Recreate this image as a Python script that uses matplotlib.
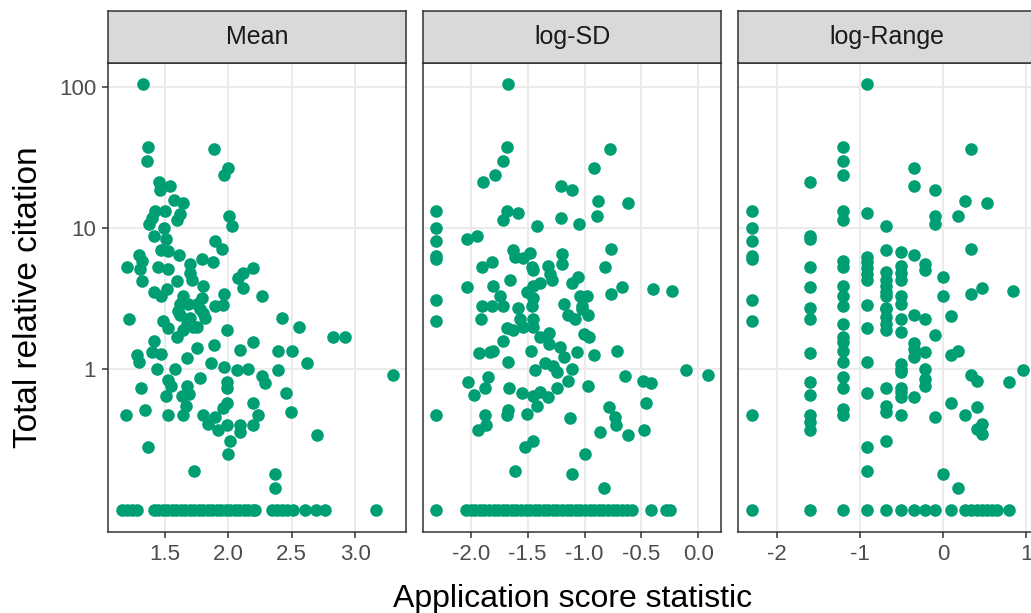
import matplotlib
matplotlib.use("Agg")
import matplotlib.pyplot as plt
import numpy as np

plt.rcParams['font.family'] = ['Liberation Sans', 'DejaVu Sans']

GREEN = "#009E73"
FLOOR = 0.1   # zero citations are drawn on this floor of the log axis

# --- Mean of application scores ---
mean_x = [1.324, 1.368, 1.356, 1.889, 1.995, 1.966, 1.453, 1.461, 1.539, 1.571,
          1.640, 1.618, 1.592, 1.421, 1.395, 1.376, 1.500, 1.494, 2.005, 2.031,
          1.413, 1.506, 1.895, 1.948, 1.468, 1.526, 1.613, 1.297, 1.316, 1.198,
          1.447, 1.526, 1.697, 1.790, 1.877, 2.197, 2.118, 2.079, 1.303, 1.316,
          2.118, 2.263, 1.416, 1.468, 1.513, 1.592, 1.697, 1.711, 1.802, 1.966,
          1.644, 1.618, 1.684, 1.790, 1.895, 1.960, 1.802, 1.618, 1.697, 1.776,
          1.671, 1.750, 1.816, 1.605, 1.750, 1.216, 1.487, 1.526, 1.592, 1.644,
          1.723, 1.987, 2.426, 2.560, 2.828, 2.921, 1.416, 1.277, 1.297, 1.395,
          1.468, 1.676, 1.750, 1.887, 1.863, 2.092, 2.192, 2.394, 2.500, 2.623,
          1.434, 1.579, 1.966, 2.066, 2.153, 2.394, 3.300, 1.526, 1.776, 1.987,
          1.992, 2.263, 2.289, 1.308, 1.545, 1.676, 1.692, 1.632, 1.508, 2.453,
          1.666, 1.644, 1.526, 1.342, 1.192, 1.987, 1.955, 2.192, 2.236, 2.494,
          1.798, 1.842, 1.895, 1.921, 1.987, 2.092, 2.092, 2.013, 1.995, 2.192,
          2.702, 1.368, 1.729, 2.368, 2.368]
mean_y = [104, 37.5, 29.6, 36.1, 26.6, 23.8, 21.0, 18.7, 19.9, 15.7,
          14.9, 12.6, 11.3, 13.1, 11.8, 10.7, 13.1, 10.0, 12.2, 10.3,
          8.7, 8.3, 8.1, 7.1, 7.0, 6.85, 6.4, 6.4, 5.8, 5.3,
          5.3, 5.1, 5.6, 6.0, 5.7, 5.2, 4.8, 4.45, 5.1, 4.2,
          3.75, 3.3, 3.5, 3.3, 3.7, 4.2, 4.8, 4.3, 3.85, 3.4,
          3.3, 2.9, 2.9, 3.2, 2.8, 2.85, 2.5, 2.4, 2.3, 2.65,
          2.1, 2.0, 2.3, 2.6, 2.9, 2.25, 2.2, 1.95, 1.7, 1.9,
          2.0, 1.9, 2.3, 2.0, 1.7, 1.7, 1.57, 1.26, 1.12, 1.32,
          1.28, 1.2, 1.41, 1.49, 1.11, 1.36, 1.55, 1.34, 1.34, 1.10,
          1.0, 1.0, 1.04, 0.98, 1.0, 0.98, 0.91, 0.84, 0.86, 0.81,
          0.73, 0.89, 0.80, 0.73, 0.76, 0.76, 0.67, 0.65, 0.65, 0.68,
          0.55, 0.47, 0.47, 0.51, 0.47, 0.58, 0.53, 0.575, 0.47, 0.50,
          0.47, 0.41, 0.46, 0.37, 0.40, 0.40, 0.36, 0.31, 0.25, 0.40,
          0.34, 0.28, 0.19, 0.18, 0.145]
mean_x_zero = [1.161, 1.200, 1.240, 1.279, 1.413, 1.445, 1.484, 1.516, 1.555, 1.587,
               1.626, 1.658, 1.697, 1.729, 1.768, 1.800, 1.839, 1.871, 1.910, 1.942,
               1.981, 2.013, 2.052, 2.084, 2.124, 2.155, 2.195, 2.210, 2.345, 2.384,
               2.423, 2.463, 2.510, 2.603, 2.694, 2.760, 3.165]

# --- log of standard deviation ---
logsd_x = [-1.670, -1.678, -1.714, -1.786, -1.889, -0.776, -0.919, -1.209, -1.112, -0.879,
           -0.893, -0.615, -2.305, -2.305, -2.305, -2.305, -2.305, -1.684, -1.719, -1.582,
           -1.420, -1.209, -1.046, -2.035, -1.947, -1.626, -1.611, -1.479, -1.538, -1.464,
           -1.455, -1.318, -1.303, -1.200, -1.200, -0.767, -0.820, -1.903, -1.815, -1.655,
           -2.035, -1.807, -1.743, -1.450, -1.391, -1.288, -1.112, -1.054, -1.508, -1.450,
           -1.040, -0.981, -0.767, -0.668, -0.401, -0.228, -2.305, -1.903, -1.815, -1.714,
           -1.587, -1.464, -1.180, -1.025, -2.305, -1.909, -1.567, -1.684, -1.626, -1.538,
           -1.450, -1.450, -1.142, -1.083, -1.025, -0.967, -1.004, -0.958, -1.391, -1.309,
           -1.309, -1.215, -1.180, -1.069, -0.917, -0.717, -1.719, -1.924, -1.830, -1.807,
           -1.670, -1.470, -1.435, -1.347, -1.274, -1.244, -1.112, -2.026, -1.971, -1.845,
           -1.874, -1.661, -1.552, -1.455, -1.391, -1.318, -1.420, -1.508, -1.670, -1.684,
           -1.874, -1.866, -1.933, -1.244, -1.148, -0.967, -0.644, -0.489, -0.418, -0.111,
           0.088, -1.127, -0.782, -0.732, -0.726, -0.460, -0.474, -0.864, -0.620, -1.455,
           -1.523, -0.996, -1.611, -1.112, -0.829, -2.305]
logsd_y = [104, 37.5, 29.6, 23.6, 21.0, 36.1, 26.6, 19.9, 18.7, 15.6,
           12.1, 14.9, 13.1, 10.0, 8.1, 6.3, 6.0, 13.1, 11.3, 12.8,
           10.4, 11.8, 10.7, 8.4, 8.7, 7.0, 6.2, 6.7, 6.1, 5.25,
           5.0, 5.4, 4.7, 6.5, 5.6, 7.1, 5.25, 5.25, 5.7, 4.3,
           3.8, 3.85, 3.3, 3.85, 4.1, 4.3, 4.1, 4.5, 3.5, 3.2,
           3.3, 3.3, 3.4, 3.8, 3.7, 3.6, 3.1, 2.8, 2.8, 2.8,
           2.7, 2.8, 2.9, 2.8, 2.2, 2.25, 2.25, 1.97, 1.9, 2.0,
           2.25, 2.0, 2.4, 2.25, 2.65, 2.4, 1.77, 1.7, 1.7, 1.8,
           1.5, 1.43, 1.22, 1.32, 1.27, 1.34, 1.57, 1.3, 1.32, 1.35,
           1.12, 1.34, 0.98, 1.1, 1.06, 0.96, 1.0, 0.81, 0.66, 0.88,
           0.73, 0.74, 0.68, 0.65, 0.69, 0.64, 0.55, 0.48, 0.51, 0.47,
           0.47, 0.40, 0.37, 0.73, 0.83, 0.76, 0.89, 0.83, 0.80, 0.98,
           0.91, 0.45, 0.54, 0.46, 0.40, 0.575, 0.37, 0.36, 0.34, 0.31,
           0.28, 0.25, 0.19, 0.18, 0.145, 0.47]
logsd_x_zero = [-2.302, -2.041, -1.997, -1.962, -1.918, -1.883, -1.839, -1.795, -1.760, -1.716,
                -1.681, -1.637, -1.602, -1.558, -1.514, -1.479, -1.435, -1.400, -1.356, -1.321,
                -1.277, -1.242, -1.198, -1.154, -1.119, -1.075, -1.040, -0.996, -0.952, -0.917,
                -0.873, -0.838, -0.794, -0.750, -0.715, -0.671, -0.627, -0.583, -0.416, -0.284,
                -0.249]

# --- score range (log taken when drawing) ---
range_v = [0.4, 0.3, 0.3, 0.3, 0.2, 0.7, 0.7, 0.9, 1.4, 1.3,
           1.7, 1.2, 0.9, 0.9, 0.1, 0.1, 0.1, 0.1, 0.1, 0.1,
           0.1, 0.1, 0.3, 0.3, 0.4, 0.5, 0.2, 0.2, 1.4, 0.5,
           0.6, 0.7, 0.8, 0.8, 1.0, 1.0, 0.4, 0.4, 0.4, 0.4,
           0.4, 0.3, 0.3, 0.2, 0.2, 0.2, 0.3, 0.3, 0.3, 0.5,
           0.5, 0.5, 0.5, 0.5, 0.5, 0.6, 0.6, 0.6, 0.6, 0.6,
           0.4, 1.4, 1.6, 2.3, 0.2, 0.2, 0.2, 0.2, 0.2, 0.2,
           0.2, 0.3, 0.3, 0.3, 0.3, 0.3, 0.3, 0.3, 0.3, 0.3,
           0.4, 0.4, 0.4, 0.4, 0.4, 0.5, 0.5, 0.5, 0.5, 0.5,
           0.5, 0.5, 0.5, 0.6, 0.6, 0.6, 0.6, 0.6, 0.6, 0.6,
           0.6, 0.6, 0.7, 0.7, 0.7, 0.7, 0.7, 0.8, 0.8, 0.8,
           0.8, 0.8, 0.9, 0.9, 1.0, 1.1, 1.1, 1.1, 1.2, 1.2,
           1.3, 1.4, 1.5, 1.5, 1.5, 1.6, 1.6, 2.2, 2.6]
range_y = [104, 37.5, 29.6, 23.6, 21.0, 26.6, 19.9, 18.7, 36.1, 15.6,
           14.9, 12.1, 12.1, 10.7, 13.1, 10.0, 8.1, 6.3, 6.0, 3.1,
           2.2, 0.47, 13.1, 11.3, 12.8, 10.4, 8.7, 8.3, 7.1, 7.0,
           6.8, 6.4, 5.6, 5.0, 4.5, 3.3, 6.2, 5.7, 5.2, 4.7,
           4.3, 5.8, 5.3, 5.25, 3.8, 2.7, 3.85, 3.3, 2.8, 4.9,
           4.3, 3.85, 3.5, 3.3, 2.7, 5.4, 4.8, 4.3, 3.3, 2.9,
           2.85, 3.4, 3.75, 3.6, 2.25, 1.30, 0.81, 0.66, 0.47, 0.42,
           0.37, 2.08, 1.69, 1.55, 1.35, 1.12, 0.88, 0.74, 0.52, 0.47,
           1.97, 1.12, 0.68, 0.28, 0.19, 2.65, 2.33, 2.08, 1.89, 0.73,
           0.55, 0.50, 0.31, 2.25, 1.83, 1.09, 1.0, 0.95, 0.74, 0.69,
           0.64, 0.47, 2.4, 1.53, 1.40, 1.22, 0.64, 2.25, 1.32, 1.0,
           0.85, 0.76, 1.74, 0.46, 0.18, 2.37, 1.26, 0.575, 1.34, 0.145,
           0.47, 0.91, 0.83, 0.54, 0.38, 0.41, 0.345, 0.81, 0.98]
range_v_zero = [0.1, 0.2, 0.3, 0.4, 0.5, 0.6, 0.7, 0.8, 0.9, 1.1,
                1.3, 1.4, 1.5, 1.6, 1.7, 1.8, 1.9, 2.2]

W, H = 1031, 613
PANEL_W = 298 / W
PANEL_B = 81.3 / H
PANEL_H = 468.7 / H
STRIP_B = 550 / H
STRIP_H = 52 / H


def draw_panel(fig, left_px, xs, ys, xs_zero, xlim, xticks, xlabels, title, first=False):
    ax = fig.add_axes([left_px / W, PANEL_B, PANEL_W, PANEL_H])
    ax.set_axisbelow(True)
    ax.scatter(xs, ys, s=82, color=GREEN, linewidths=0, zorder=3)
    ax.scatter(xs_zero, np.full(len(xs_zero), FLOOR), s=82, color=GREEN,
               linewidths=0, zorder=3)
    ax.set_yscale('log')
    ax.set_ylim(10 ** -1.151, 10 ** 2.168)
    ax.set_xlim(*xlim)
    ax.set_xticks(xticks)
    ax.set_xticklabels(xlabels)
    ax.set_yticks([1, 10, 100])
    ax.yaxis.set_minor_locator(matplotlib.ticker.NullLocator())
    ax.grid(True, color='#EBEBEB', linewidth=1.4)
    for sp in ax.spines.values():
        sp.set_color('#333333')
        sp.set_linewidth(1.1)
    ax.tick_params(axis='both', length=4.5, width=1.1, color='#333333',
                   labelsize=16, labelcolor='#4D4D4D', pad=4)
    if first:
        ax.set_yticklabels(['1', '10', '100'])
    else:
        ax.tick_params(axis='y', left=False, labelleft=False)

    strip = fig.add_axes([left_px / W, STRIP_B, PANEL_W, STRIP_H])
    strip.set_facecolor('#D9D9D9')
    strip.set_xticks([])
    strip.set_yticks([])
    for sp in strip.spines.values():
        sp.set_color('#333333')
        sp.set_linewidth(1.1)
    strip.text(0.5, 0.5, title, ha='center', va='center', fontsize=18,
               color='#1A1A1A', transform=strip.transAxes)
    return ax


fig = plt.figure(figsize=(W / 100, H / 100), dpi=100)

draw_panel(fig, 108, mean_x, mean_y, mean_x_zero, (1.050, 3.402),
           [1.5, 2.0, 2.5, 3.0], ['1.5', '2.0', '2.5', '3.0'], 'Mean', first=True)
draw_panel(fig, 423.3, logsd_x, logsd_y, logsd_x_zero, (-2.417, 0.202),
           [-2.0, -1.5, -1.0, -0.5, 0.0], ['-2.0', '-1.5', '-1.0', '-0.5', '0.0'], 'log-SD')
draw_panel(fig, 738.3, np.log(range_v), range_y, np.log(range_v_zero), (-2.466, 1.119),
           [-2, -1, 0, 1], ['-2', '-1', '0', '1'], 'log-Range')

fig.text(572.5 / W, 6.3 / H, 'Application score statistic', ha='center', va='baseline',
         fontsize=23, color='black')
fig.text(29 / W, 0.5155, 'Total relative citation', ha='center', va='center',
         rotation=90, fontsize=24, color='black')

fig.savefig('out.png', dpi=100)
